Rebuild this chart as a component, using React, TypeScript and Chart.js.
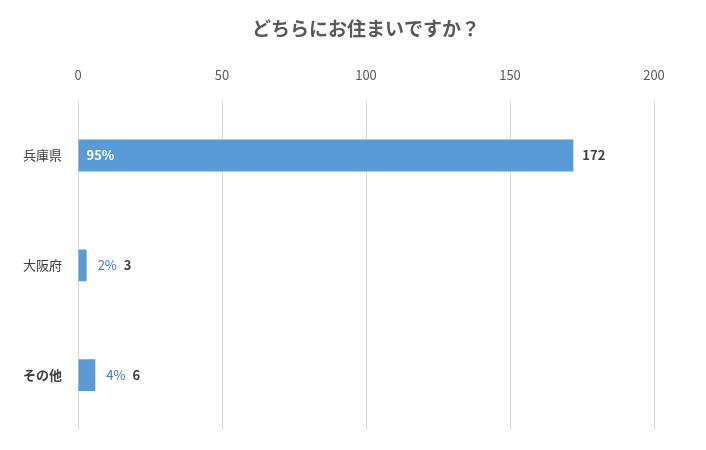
import React, { useEffect, useRef } from "react";
import { Chart, registerables } from "chart.js";

Chart.register(...registerables);

const categories = ["兵庫県", "大阪府", "その他"];
const counts = [172, 3, 6];
const percents = ["95%", "2%", "4%"];
const xTicks = [0, 50, 100, 150, 200];
const titleText = "どちらにお住まいですか？";

const FONT = "'Noto Sans CJK JP', 'Noto Sans', sans-serif";

const titlePlugin = {
  id: "centeredTitle",
  afterDraw(chart: any) {
    const { ctx, chartArea } = chart;
    ctx.save();
    ctx.fillStyle = "#595959";
    ctx.font = `bold 19px ${FONT}`;
    ctx.textAlign = "center";
    ctx.textBaseline = "middle";
    ctx.fillText(titleText, (chartArea.left + chartArea.right) / 2, 29);
    ctx.restore();
  },
};

const labelPlugin = {
  id: "barLabels",
  afterDatasetsDraw(chart: any) {
    const { ctx } = chart;
    const meta = chart.getDatasetMeta(0);
    ctx.save();
    ctx.textBaseline = "middle";
    meta.data.forEach((bar: any, i: number) => {
      const y = bar.y;
      const start = bar.base;
      const end = bar.x;
      const pct = percents[i];
      ctx.font = `bold 13px ${FONT}`;
      const pctW = ctx.measureText(pct).width;
      let valueX: number;
      if (end - start > pctW + 16) {
        ctx.fillStyle = "#ffffff";
        ctx.textAlign = "left";
        ctx.fillText(pct, start + 8, y);
        valueX = end + 9;
      } else {
        ctx.fillStyle = "#4472c4";
        ctx.font = `13px ${FONT}`;
        ctx.textAlign = "left";
        const px = end + 11;
        ctx.fillText(pct, px, y);
        valueX = px + ctx.measureText(pct).width + 7;
      }
      ctx.fillStyle = "#404040";
      ctx.font = `bold 13px ${FONT}`;
      ctx.fillText(String(counts[i]), valueX, y);
    });
    ctx.restore();
  },
};

export default function App() {
  const ref = useRef<HTMLCanvasElement | null>(null);
  useEffect(() => {
    if (!ref.current) return;
    const chart = new Chart(ref.current, {
      type: "bar",
      data: {
        labels: categories,
        datasets: [
          {
            data: counts,
            backgroundColor: "#5b9bd5",
            barPercentage: 1,
            categoryPercentage: 0.29,
          },
        ],
      },
      options: {
        indexAxis: "y",
        animation: false,
        responsive: true,
        maintainAspectRatio: false,
        layout: { padding: { left: 15, right: 52, top: 49, bottom: 20 } },
        plugins: {
          legend: { display: false },
          tooltip: { enabled: false },
          title: { display: false },
        },
        scales: {
          x: {
            position: "top",
            min: 0,
            max: 200,
            afterBuildTicks: (axis: any) => {
              axis.ticks = xTicks.map((v) => ({ value: v }));
            },
            grid: { color: "#d9d9d9", drawTicks: false },
            border: { display: false },
            ticks: {
              color: "#595959",
              font: { family: FONT, size: 13 },
              padding: 18,
            },
          },
          y: {
            grid: { display: false },
            border: { display: false },
            ticks: {
              color: "#404040",
              padding: 8,
              font: (c: any) => ({
                family: FONT,
                size: 13,
                weight: c.index === 2 ? "bold" : "normal",
              }),
            },
          },
        },
      },
      plugins: [labelPlugin, titlePlugin],
    });
    return () => chart.destroy();
  }, []);
  return (
    <div style={{ position: "fixed", left: 0, top: 0, width: 706, height: 450, background: "#fff" }}>
      <canvas ref={ref} />
    </div>
  );
}
